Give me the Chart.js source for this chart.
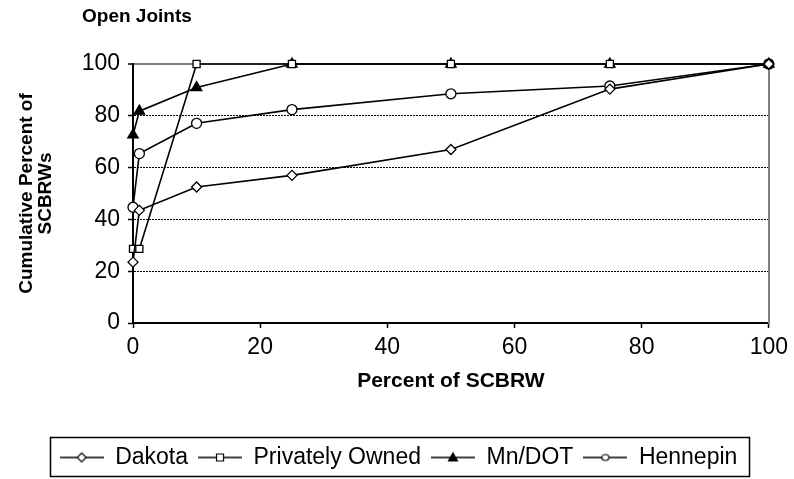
<!DOCTYPE html>
<html lang="en">
<head>
  <meta charset="UTF-8" />
  <title>Open Joints</title>
  <script src="https://cdn.jsdelivr.net/npm/chart.js"></script>
  <style>
    html, body { margin: 0; padding: 0; background: #fff; }
    #wrap { width: 794px; height: 479px; position: relative; }
  </style>
</head>
<body>
  <div id="wrap"><canvas id="myChart"></canvas></div>

<script>
// percent of SCBRW (x) and cumulative percent of SCBRWs (y)
const xValues = [0, 1, 10, 25, 50, 75, 100];
const dakota = [23.5, 43.5, 52.5, 57, 67, 90.3, 100];
const privatelyOwned = [28.6, 28.6, 100, 100, 100, 100, 100];
const mnDot = [72.6, 81.8, 90.9, 100, 100, 100, 100];
const hennepin = [44.7, 65.4, 77.1, 82.4, 88.5, 91.5, 100];
const yTicks = [0, 20, 40, 60, 80, 100];
const xTicks = [0, 20, 40, 60, 80, 100];

const font = "'Liberation Sans', Arial, sans-serif";

function pts(ys) {
  return xValues.map((x, i) => ({ x: x, y: ys[i] }));
}

// little line+marker images for the legend
function legendSymbol(kind) {
  const c = document.createElement('canvas');
  c.width = 44; c.height = 14;
  const g = c.getContext('2d');
  g.strokeStyle = '#000';
  g.lineWidth = 1.5;
  g.beginPath(); g.moveTo(0, 7); g.lineTo(44, 7); g.stroke();
  g.lineWidth = 1.2;
  g.beginPath();
  if (kind == 'diamond') {
    g.moveTo(22, 2.5); g.lineTo(26.5, 7); g.lineTo(22, 11.5); g.lineTo(17.5, 7); g.closePath();
    g.fillStyle = '#fff';
  } else if (kind == 'square') {
    g.rect(18.5, 3.5, 7, 7);
    g.fillStyle = '#fff';
  } else if (kind == 'triangle') {
    g.moveTo(22, 2.5); g.lineTo(26.5, 10.5); g.lineTo(17.5, 10.5); g.closePath();
    g.fillStyle = '#000';
  } else {
    g.ellipse(22, 7, 3.5, 3, 0, 0, Math.PI * 2);
    g.fillStyle = '#fff';
  }
  g.fill(); g.stroke();
  return c;
}

const legendIcons = [legendSymbol('diamond'), legendSymbol('square'), legendSymbol('triangle'), legendSymbol('circle')];

const chartTitle = {
  id: 'chartTitle',
  afterDraw(chart) {
    const c = chart.ctx;
    c.save();
    c.fillStyle = '#000';
    c.font = 'bold 19px ' + font;
    c.textBaseline = 'middle';
    c.fillText('Open Joints', 82, 17);
    c.restore();
  }
};

// legend sits a little right of centre in the original, with a frame round it
const legendFrame = {
  id: 'legendFrame',
  afterLayout(chart) {
    chart.legend.left += 12;
    chart.legend.right += 12;
  },
  afterDraw(chart) {
    const boxes = chart.legend.legendHitBoxes;
    if (!boxes || !boxes.length) return;
    let l = Infinity, r = -Infinity, t = Infinity, b = -Infinity;
    boxes.forEach(h => {
      l = Math.min(l, h.left); r = Math.max(r, h.left + h.width);
      t = Math.min(t, h.top); b = Math.max(b, h.top + h.height);
    });
    const c = chart.ctx;
    c.save();
    c.strokeStyle = '#000';
    c.lineWidth = 1.5;
    c.strokeRect(Math.round(l) - 9.5, Math.round(t) - 8.5, Math.round(r - l) + 21, Math.round(b - t) + 16);
    c.restore();
  }
};

function makeSet(label, ys, style, fill, radius) {
  return {
    label: label,
    data: pts(ys),
    showLine: true,
    clip: false,
    borderColor: '#000',
    borderWidth: 1.6,
    pointStyle: style,
    pointRadius: radius,
    pointHoverRadius: radius,
    pointBackgroundColor: fill,
    pointBorderColor: '#000',
    pointBorderWidth: 1.3
  };
}

const ctx = document.getElementById('myChart');
new Chart(ctx, {
  type: 'scatter',
  data: {
    datasets: [
      makeSet('Dakota', dakota, 'rectRot', '#fff', 5),
      makeSet('Privately Owned', privatelyOwned, 'rect', '#fff', 5),
      makeSet('Mn/DOT', mnDot, 'triangle', '#000', 6),
      makeSet('Hennepin', hennepin, 'circle', '#fff', 5)
    ]
  },
  options: {
    responsive: true,
    maintainAspectRatio: false,
    animation: false,
    layout: { padding: { left: 0, right: 21, top: 64, bottom: 0 } },
    plugins: {
      title: { display: false },
      tooltip: { enabled: false },
      legend: {
        position: 'bottom',
        labels: {
          usePointStyle: true,
          pointStyleWidth: 44,
          padding: 10,
          color: '#000',
          font: { family: font, size: 23 },
          generateLabels(chart) {
            return chart.data.datasets.map((ds, i) => ({
              text: ds.label,
              pointStyle: legendIcons[i],
              fillStyle: '#fff',
              strokeStyle: '#000',
              lineWidth: 0,
              datasetIndex: i,
              fontColor: '#000'
            }));
          }
        }
      }
    },
    scales: {
      x: {
        type: 'linear',
        min: 0,
        max: 100,
        afterBuildTicks(s) { s.ticks = xTicks.map(v => ({ value: v })); },
        afterFit(s) { s.height = 113; },
        ticks: { color: '#000', padding: 6, font: { family: font, size: 23 } },
        grid: { drawOnChartArea: false, tickLength: 5, tickColor: '#000', tickWidth: 1.5 },
        border: { color: '#000', width: 2 },
        title: {
          display: true,
          text: 'Percent of SCBRW',
          color: '#000',
          font: { family: font, size: 21, weight: 'bold' },
          padding: { top: 0, bottom: 42 }
        }
      },
      y: {
        min: 0,
        max: 100,
        afterBuildTicks(s) { s.ticks = yTicks.map(v => ({ value: v })); },
        afterFit(s) { s.width = 133; },
        ticks: { color: '#000', padding: 8, font: { family: font, size: 23 } },
        grid: {
          tickLength: 5,
          tickColor: '#000',
          tickWidth: 1.5,
          color: c => (c.tick && c.tick.value == 100) ? '#808080' : (c.tick && c.tick.value == 0 ? 'rgba(0,0,0,0)' : '#000'),
          lineWidth: c => (c.tick && c.tick.value == 100) ? 2 : 1
        },
        border: { color: '#000', width: 2, dash: c => (c.tick && c.tick.value == 100) ? [] : [2, 1] },
        title: {
          display: true,
          text: ['Cumulative Percent of', 'SCBRWs'],
          color: '#000',
          font: { family: font, size: 19, weight: 'bold', lineHeight: 1.0 },
          padding: { top: 17, bottom: 0 }
        }
      },
      y2: {
        position: 'right',
        min: 0,
        max: 100,
        afterFit(s) { s.width = 0; },
        ticks: { display: false },
        grid: { drawOnChartArea: false, drawTicks: false, tickLength: 0 },
        border: { color: '#808080', width: 2 }
      }
    }
  },
  plugins: [chartTitle, legendFrame]
});
</script>
</body>
</html>
